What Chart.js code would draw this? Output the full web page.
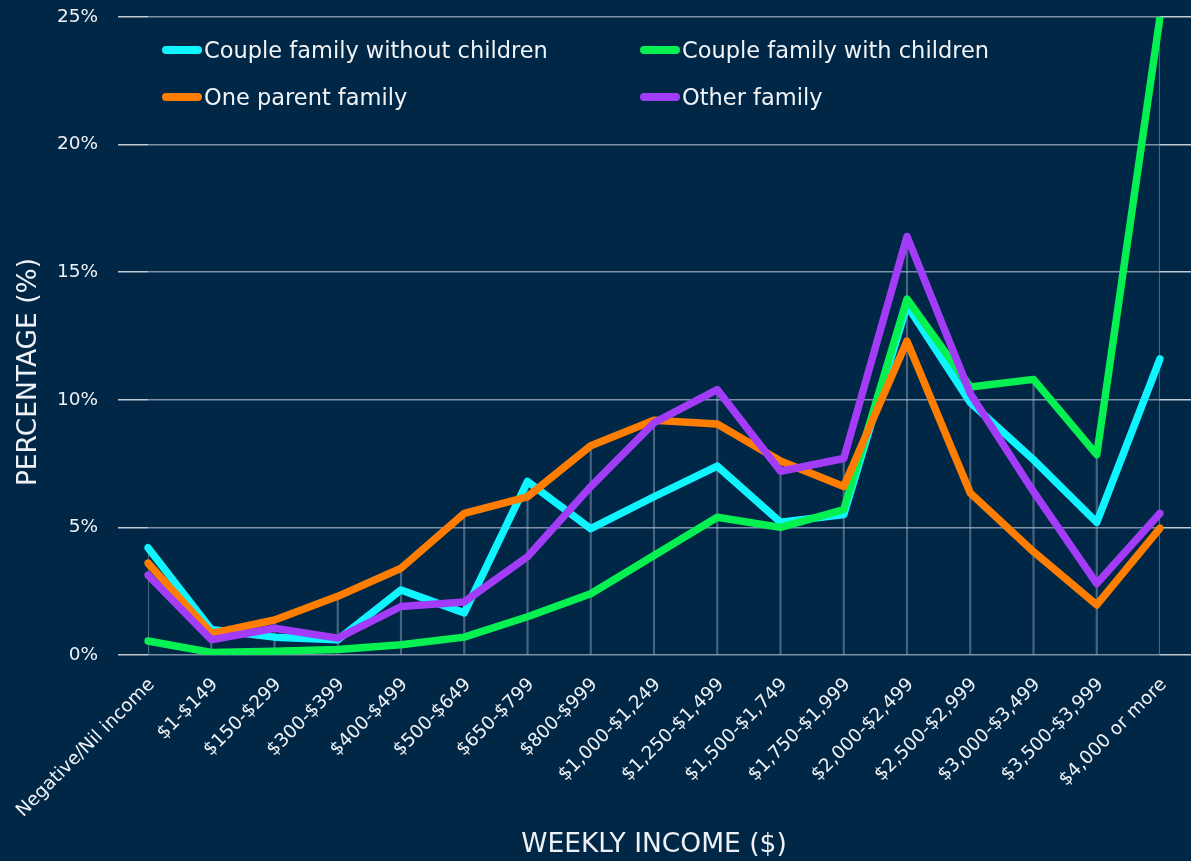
<!DOCTYPE html>
<html>
<head>
<meta charset="utf-8">
<script src="https://cdn.jsdelivr.net/npm/chart.js@4.4.1/dist/chart.umd.min.js"></script>
<style>
  html, body { margin: 0; padding: 0; background: #012747; }
  #wrap { position: relative; width: 1191px; height: 861px; overflow: hidden; }
  canvas { display: block; }
  .lg { position: absolute; display: flex; align-items: center; font-family: "DejaVu Sans", sans-serif; font-size: 22.5px; color: #f1f4f7; white-space: nowrap; transform: translateY(-50%); }
  .lg .sw { width: 40px; height: 8px; border-radius: 4px; margin-right: 2px; }
</style>
</head>
<body>
<div id="wrap">
  <canvas id="c" width="1191" height="861"></canvas>
  <div id="legend"></div>
</div>
<script>
const categories = ["Negative/Nil income", "$1-$149", "$150-$299", "$300-$399", "$400-$499", "$500-$649", "$650-$799", "$800-$999", "$1,000-$1,249", "$1,250-$1,499", "$1,500-$1,749", "$1,750-$1,999", "$2,000-$2,499", "$2,500-$2,999", "$3,000-$3,499", "$3,500-$3,999", "$4,000 or more"];
const seriesNames = ["Couple family without children", "Couple family with children", "One parent family", "Other family"];
const coupleWithoutChildren = [4.2, 1.0, 0.7, 0.6, 2.55, 1.65, 6.8, 4.95, 6.2, 7.4, 5.2, 5.5, 13.7, 9.9, 7.65, 5.2, 11.6];
const coupleWithChildren = [0.55, 0.1, 0.15, 0.22, 0.4, 0.7, 1.5, 2.4, 3.9, 5.4, 5.0, 5.7, 13.95, 10.5, 10.8, 7.85, 25.0];
const oneParentFamily = [3.6, 0.85, 1.37, 2.3, 3.4, 5.55, 6.2, 8.2, 9.2, 9.05, 7.6, 6.6, 12.3, 6.35, 4.05, 1.96, 4.97];
const otherFamily = [3.13, 0.6, 1.05, 0.66, 1.9, 2.08, 3.85, 6.6, 9.1, 10.4, 7.2, 7.7, 16.4, 10.25, 6.4, 2.8, 5.55];
const yTickValues = [0, 5, 10, 15, 20, 25];
const yTitle = "PERCENTAGE (%)";
const xTitle = "WEEKLY INCOME ($)";

const colors = ["#0ff4ff", "#06f052", "#ff7d00", "#a23cf7"];
const allSeries = [coupleWithoutChildren, coupleWithChildren, oneParentFamily, otherFamily];
const dropMax = categories.map((_, i) => Math.max(...allSeries.map(s => s[i])));

const textColor = "#eef1f5";
const FONT = "'DejaVu Sans', sans-serif";

const yTitlePlugin = {
  id: 'yTitle',
  afterDraw(chart) {
    const ctx = chart.ctx;
    ctx.save();
    ctx.translate(29, 372);
    ctx.rotate(-Math.PI / 2);
    ctx.font = "26.5px " + FONT;
    ctx.fillStyle = textColor;
    ctx.textAlign = "center";
    ctx.textBaseline = "middle";
    ctx.fillText(yTitle, 0, 0);
    ctx.restore();
  }
};

const lineDs = (i, order) => ({
  type: 'line',
  label: seriesNames[i],
  data: allSeries[i],
  borderColor: colors[i],
  backgroundColor: colors[i],
  borderWidth: 7.5,
  pointRadius: 0,
  pointHoverRadius: 0,
  tension: 0,
  borderJoinStyle: 'round',
  borderCapStyle: 'round',
  fill: false,
  order: order
});

const chart = new Chart(document.getElementById('c'), {
  type: 'line',
  data: {
    labels: categories,
    datasets: [
      lineDs(0, 4), lineDs(1, 3), lineDs(2, 2), lineDs(3, 1),
      {
        type: 'bar',
        label: 'drop',
        data: dropMax,
        backgroundColor: 'rgba(170,188,210,0.42)',
        barThickness: 1.5,
        order: 10
      }
    ]
  },
  options: {
    responsive: false,
    animation: false,
    devicePixelRatio: 1,
    layout: { padding: { top: 17, left: 0, right: 0, bottom: 0 } },
    plugins: {
      legend: { display: false },
      tooltip: { enabled: false },
      title: { display: false }
    },
    scales: {
      x: {
        offset: false,
        grid: { display: false, drawTicks: false },
        border: { display: false },
        ticks: {
          color: textColor,
          font: { family: FONT, size: 18.5 },
          maxRotation: 45,
          minRotation: 45,
          autoSkip: false,
          padding: 19,
          labelOffset: 4
        },
        title: {
          display: true,
          text: xTitle,
          color: textColor,
          font: { family: FONT, size: 26.5 },
          padding: { top: 0, bottom: 0 }
        },
        afterFit(s) { s.height = 206; s.paddingLeft = 0; s.paddingRight = 0; }
      },
      y: {
        min: 0,
        max: 25,
        afterBuildTicks(s) { s.ticks = yTickValues.map(v => ({ value: v })); },
        ticks: {
          color: textColor,
          font: { family: FONT, size: 18.5 },
          padding: 20,
          callback: v => v + '%'
        },
        grid: { color: 'rgba(200,212,228,0.62)', tickColor: '#c3c9d1', tickLength: 30, lineWidth: 1.5 },
        border: { display: false },
        afterFit(s) { s.width = 148; s.paddingTop = 0; s.paddingBottom = 0; }
      },
      y2: {
        position: 'right',
        min: 0,
        max: 25,
        afterBuildTicks(s) { s.ticks = yTickValues.map(v => ({ value: v })); },
        ticks: { display: false },
        grid: { drawOnChartArea: false, tickColor: '#c3c9d1', tickLength: 31, lineWidth: 1.5 },
        border: { display: false },
        afterFit(s) { s.width = 31; s.paddingTop = 0; s.paddingBottom = 0; }
      }
    }
  },
  plugins: [yTitlePlugin]
});

// HTML legend in two columns, built from the chart's datasets
const legendPos = [[162, 50], [640, 50], [162, 97], [640, 97]];
const legendEl = document.getElementById('legend');
chart.data.datasets.slice(0, 4).forEach((ds, i) => {
  const d = document.createElement('div');
  d.className = 'lg';
  d.style.left = legendPos[i][0] + 'px';
  d.style.top = legendPos[i][1] + 'px';
  const sw = document.createElement('span');
  sw.className = 'sw';
  sw.style.background = ds.borderColor;
  const t = document.createElement('span');
  t.textContent = ds.label;
  d.appendChild(sw);
  d.appendChild(t);
  legendEl.appendChild(d);
});
</script>
</body>
</html>
